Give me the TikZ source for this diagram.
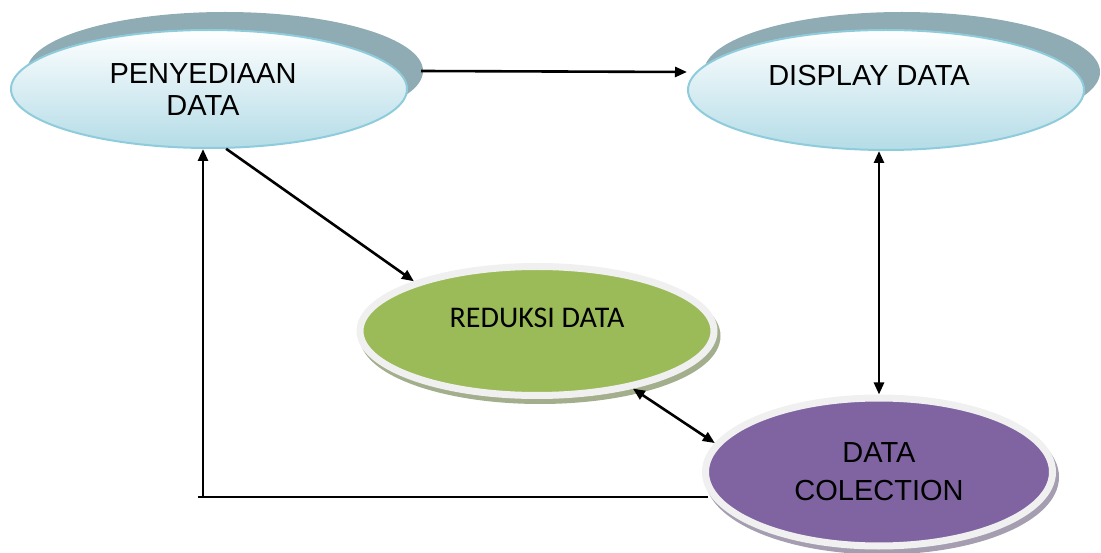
\documentclass[tikz,border=0pt]{standalone}
\usepackage{fontspec}
\setmainfont{Liberation Sans}
\newfontfamily\calibri{Carlito}
\usetikzlibrary{shapes.geometric,shadows,arrows.meta}
\definecolor{skybottom}{HTML}{B4DCE7}
\definecolor{skyline}{HTML}{8ECCDC}
\definecolor{backgray}{HTML}{8FABB3}
\definecolor{ringgray}{HTML}{F0F0F0}
\definecolor{redgreen}{HTML}{9BBB59}
\definecolor{redshade}{HTML}{A2AE8C}
\definecolor{dcpurple}{HTML}{8064A2}
\definecolor{dcshade}{HTML}{A59DB0}

\begin{document}
\begin{tikzpicture}[x=1pt,y=-1pt,
  topbox/.style={ellipse, inner sep=0pt, top color=white, bottom color=skybottom,
    draw=skyline, line width=2pt,
    drop shadow={shadow xshift=16pt, shadow yshift=18pt, fill=backgray, opacity=1}},
  ringbox/.style 2 args={ellipse, inner sep=0pt, fill=#1, draw=ringgray, line width=7pt,
    drop shadow={shadow xshift=3pt, shadow yshift=-5pt, fill=#2, draw=#2, line width=7pt, opacity=1}},
  bigtext/.style={font=\fontsize{29}{32}\selectfont, align=center},
  arr/.style={line width=2.6pt, -{Triangle[length=12pt,width=10pt]}},
  dbl/.style={line width=2.6pt, {Triangle[length=12pt,width=10pt]}-{Triangle[length=12pt,width=10pt]}}]
\useasboundingbox (0,0) rectangle (1101,553);

\node[topbox, minimum width=396pt, minimum height=118pt] (peny) at (209,89) {};
\node[bigtext] (penytext) at ([xshift=-6pt,yshift=-1pt]peny.center) {PENYEDIAAN\\DATA};
\node[topbox, minimum width=396pt, minimum height=120pt] (disp) at (886,90) {};
\node[bigtext] (disptext) at ([xshift=-17pt,yshift=14pt]disp.center) {DISPLAY DATA};
\node[ringbox={redgreen}{redshade}, minimum width=354pt, minimum height=129pt] (red) at (537,331) {};
\node[font=\calibri\fontsize{30}{32}\selectfont] (redtext) at ([yshift=13pt]red.center) {REDUKSI DATA};
\node[ringbox={dcpurple}{dcshade}, minimum width=347pt, minimum height=148pt,
  font=\fontsize{29}{38}\selectfont, align=center] (dc) at (879,472) {DATA\\COLECTION};

\coordinate (loopc) at (203,497);

\draw[arr] ([shift={(13pt,18pt)}]peny.east) -- ([yshift=18pt]disp.west);
\draw[arr] (peny.-74) -- (red.158);
\draw[dbl] (dc.north |- disp.south) -- (dc.north);
\draw[dbl] (red.-31) -- (dc.170);
\draw[line width=1.2pt] ([xshift=6pt]loopc -| dc.west) -- ([xshift=-5pt]loopc);
\draw[arr] (loopc) -- (loopc |- peny.south);
\end{tikzpicture}
\end{document}
